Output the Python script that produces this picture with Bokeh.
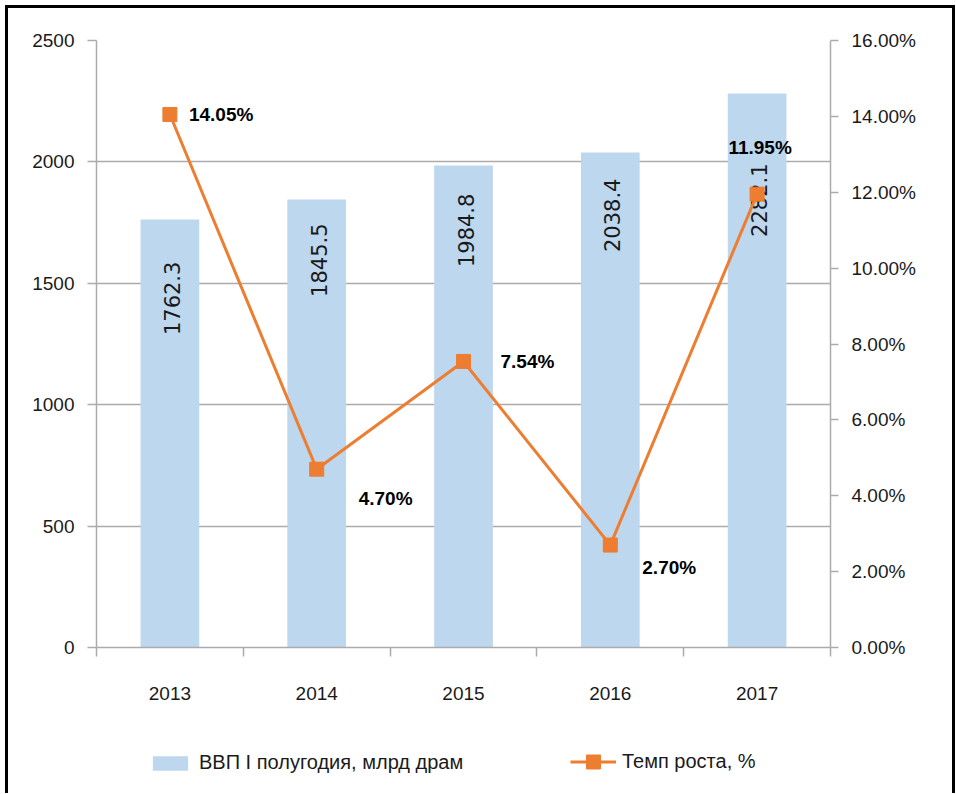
from math import pi
from bokeh.plotting import figure
from bokeh.layouts import column
from bokeh.models import (Range1d, LinearAxis, FixedTicker, NumeralTickFormatter,
                          Legend, LegendItem, ColumnDataSource)
from bokeh.core.properties import value
from bokeh.embed import file_html
from bokeh.resources import INLINE

# ---- data ----
years = ["2013", "2014", "2015", "2016", "2017"]
gdp = [1762.3, 1845.5, 1984.8, 2038.4, 2282.1]
growth = [0.1405, 0.0470, 0.0754, 0.0270, 0.1195]
left_ticks = [0, 500, 1000, 1500, 2000, 2500]
right_ticks = [0.0, 0.02, 0.04, 0.06, 0.08, 0.10, 0.12, 0.14, 0.16]
bar_name = "ВВП I полугодия, млрд драм"
line_name = "Темп роста, %"

# ---- label placement (screen pixels) ----
bar_label_drop = [42, 24, 28, 26, 70]
pct_dx = [19, 42, 37, 32, 3]
pct_dy = [0, 29, 0, 22, -47]
pct_align = ["left", "left", "left", "left", "center"]

FONT = "Liberation Sans"
BLUE = "#BDD7EE"
ORANGE = "#ED7D31"
GRAY = "#ABABAB"
TXT = "#1a1a1a"
W = 944
NAN = float("nan")

xs = [i + 0.5 for i in range(len(years))]
src = ColumnDataSource(dict(
    x=xs, gdp=gdp, growth=growth,
    gdp_text=[f"{v:.1f}" for v in gdp],
    pct_text=[f"{g * 100:.2f}%" for g in growth],
    drop=bar_label_drop, dx=pct_dx, dy=pct_dy, align=pct_align,
))

p = figure(width=W, height=700, output_backend="svg", toolbar_location=None,
           x_range=Range1d(0, len(years)), y_range=Range1d(0, 2500),
           min_border_left=88, min_border_right=122, min_border_top=32,
           min_border_bottom=61, background_fill_color="white",
           border_fill_color="white")
p.outline_line_color = None
p.extra_y_ranges = {"pct": Range1d(0, 0.16)}

# bars
bars = p.vbar(x="x", top="gdp", width=0.4, source=src, fill_color=BLUE, line_color=None)
p.text(x="x", y="gdp", text="gdp_text", source=src, angle=pi / 2,
       text_align="right", text_baseline="middle", x_offset=2, y_offset="drop",
       text_font=value("DejaVu Sans"), text_font_size="21px", text_color=TXT)

# line
ln = p.line(x="x", y="growth", source=src, y_range_name="pct", line_color=ORANGE, line_width=3)
mk = p.scatter(x="x", y="growth", source=src, y_range_name="pct", marker="square",
               size=14, fill_color=ORANGE, line_color=ORANGE)
p.text(x="x", y="growth", text="pct_text", source=src, y_range_name="pct",
       x_offset="dx", y_offset="dy", text_align="align", text_baseline="middle",
       text_font=value(FONT), text_font_style="bold", text_font_size="19px",
       text_color="black")

# axes
xa = p.xaxis[0]
xa.ticker = FixedTicker(ticks=xs, minor_ticks=list(range(len(years) + 1)))
xa.major_label_overrides = {x: y for x, y in zip(xs, years)}
xa.major_tick_out = 0
xa.major_tick_in = 0
xa.minor_tick_out = 9
xa.minor_tick_in = 0
xa.minor_tick_line_color = GRAY
xa.minor_tick_line_width = 1.5
xa.axis_line_color = GRAY
xa.axis_line_width = 1.5
xa.major_label_standoff = 30
xa.major_label_text_font = FONT
xa.major_label_text_font_size = "19px"
xa.major_label_text_color = TXT

ya = p.yaxis[0]
ya.ticker = FixedTicker(ticks=left_ticks)
ya.major_tick_out = 9
ya.major_tick_in = 0
ya.minor_tick_line_color = None
ya.major_tick_line_color = GRAY
ya.major_tick_line_width = 1.5
ya.axis_line_color = GRAY
ya.axis_line_width = 1.5
ya.major_label_standoff = 13
ya.major_label_text_font = FONT
ya.major_label_text_font_size = "19px"
ya.major_label_text_color = TXT

ra = LinearAxis(y_range_name="pct", ticker=FixedTicker(ticks=right_ticks),
                formatter=NumeralTickFormatter(format="0.00%"))
ra.major_tick_out = 8
ra.major_tick_in = 0
ra.minor_tick_line_color = None
ra.major_tick_line_color = GRAY
ra.major_tick_line_width = 1.5
ra.axis_line_color = GRAY
ra.axis_line_width = 1.5
ra.major_label_standoff = 13
ra.major_label_text_font = FONT
ra.major_label_text_font_size = "19px"
ra.major_label_text_color = TXT
p.add_layout(ra, "right")

p.xgrid.visible = False
p.ygrid.grid_line_color = GRAY
p.ygrid.grid_line_width = 1.5
p.ygrid.ticker = FixedTicker(ticks=left_ticks)

# legend strip (separate figure so the legend is not clipped by the chart frame)
lg = figure(width=W, height=85, output_backend="svg", toolbar_location=None,
            x_axis_type=None, y_axis_type=None, min_border=0,
            x_range=Range1d(0, 1), y_range=Range1d(0, 1),
            background_fill_color="white", border_fill_color="white")
lg.outline_line_color = None
lg.grid.visible = False
proxy = ColumnDataSource(dict(x=[NAN], top=[NAN], y=[NAN]))
lb = lg.vbar(x="x", top="top", width=0.4, source=proxy, fill_color=BLUE, line_color=None)
ll = lg.line(x="x", y="y", source=proxy, line_color=ORANGE, line_width=3)
lm = lg.scatter(x="x", y="y", source=proxy, marker="square", size=14,
                fill_color=ORANGE, line_color=ORANGE)
common = dict(orientation="horizontal", padding=0, margin=0, border_line_color=None,
              background_fill_alpha=0, label_text_font=FONT,
              label_text_font_size="20px", label_text_color=TXT)
leg1 = Legend(items=[LegendItem(label=bar_name, renderers=[lb])],
              location=(52, 19), glyph_width=44, glyph_height=18,
              label_standoff=7, **common)
leg2 = Legend(items=[LegendItem(label=line_name, renderers=[ll, lm])],
              location=(474, 14), glyph_width=46, glyph_height=35,
              label_standoff=6, **common)
lg.add_layout(leg1, "center")
lg.add_layout(leg2, "center")

layout = column(p, lg, spacing=0,
                styles={"border-top": "3px solid black", "border-left": "3px solid black",
                        "border-right": "3px solid black", "margin-left": "5px",
                        "margin-top": "5px"})

open("out.html", "w").write(file_html(layout, INLINE))
